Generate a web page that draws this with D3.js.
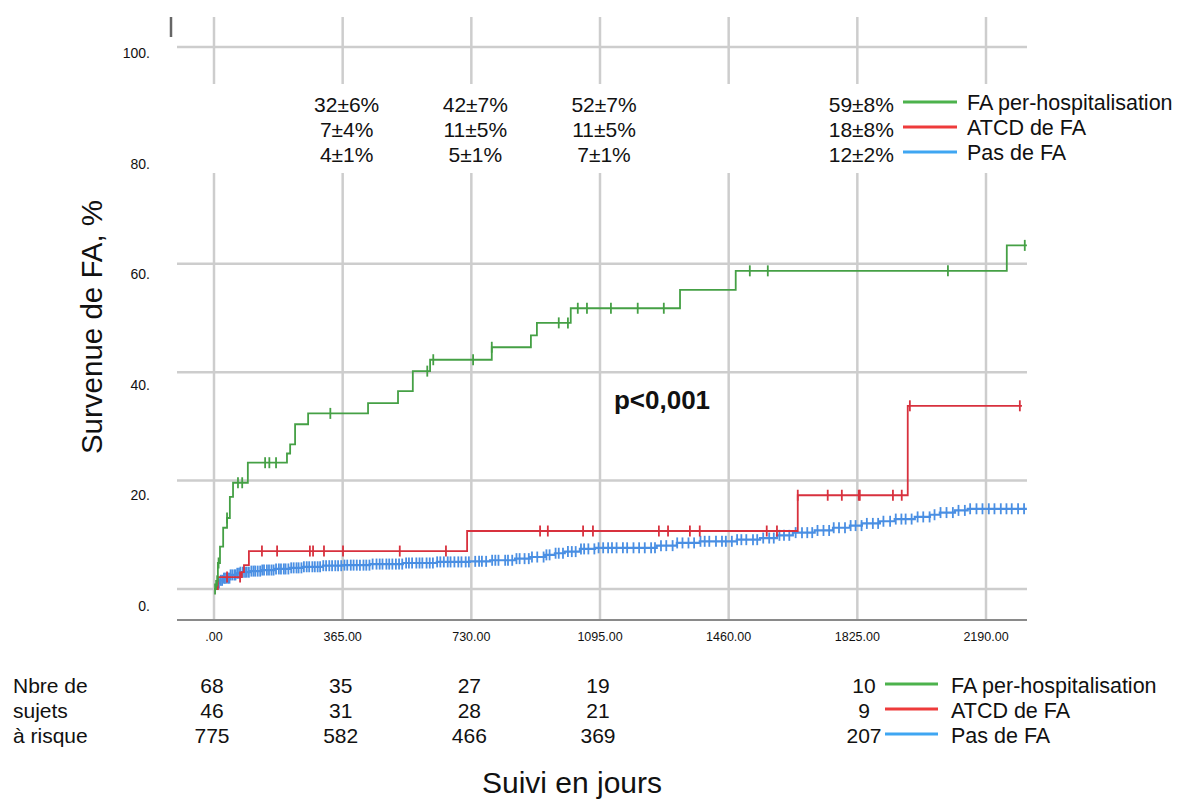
<!DOCTYPE html>
<html>
<head>
<meta charset="utf-8">
<script src="https://cdn.jsdelivr.net/npm/d3@7/dist/d3.min.js"></script>
<style>
body { margin: 0; background: #fff; }
text { font-family: "Liberation Sans", Arial, Helvetica, sans-serif; fill: #111; }
</style>
</head>
<body>
<div id="chart"></div>
<script>
// series names, legend order
var groups = ["FA per-hospitalisation", "ATCD de FA", "Pas de FA"];

// kaplan-meier steps: [day, % with FA]
var greenSteps = [[0,0],[6,1.5],[11,4.8],[17,7.8],[26,11.3],[37,13.1],[45,17],[54,19.6],[96,23.3],
    [207,25],[216,26.7],[230,30.4],[267,32.4],[437,34.3],[522,36.5],[564,40.2],[613,42.3],
    [788,44.6],[899,46.8],[916,49.1],[1012,51.8],[1322,55.2],[1480,58.7],[2249,63.4]];
var greenLast = 2306;
var greenCensor = [3,9,13,37,68,80,145,157,176,330,605,622,735,788,978,1004,1032,1058,1126,1202,1276,1520,1571,2082,2300];

var redSteps = [[0,0],[11,2.2],[79,3.1],[85,4.4],[99,7.0],[718,10.7],[1656,17.3],[1968,33.8]];
var redLast = 2292;
var redCensor = [37,74,136,179,272,281,312,366,527,658,925,947,1047,1075,1262,1288,1350,1378,1568,1597,1656,
    1741,1781,1829,1832,1926,1951,1974,2286];

var blueSteps = [[0,0],[6,0.6],[11,1.1],[17,1.6],[28,2.0],[45,2.6],[62,2.9],[74,3.1],[102,3.3],[136,3.5],
    [173,3.7],[216,3.9],[252,4.1],[309,4.3],[366,4.4],[442,4.6],[536,4.8],[632,5.0],[726,5.1],[783,5.3],
    [854,5.6],[896,5.9],[939,6.3],[967,6.6],[995,6.9],[1038,7.4],[1081,7.6],[1256,8.0],[1313,8.5],
    [1378,8.8],[1483,9.1],[1549,9.4],[1597,9.9],[1642,10.4],[1704,10.8],[1756,11.3],[1804,11.7],
    [1838,12.1],[1889,12.5],[1931,12.9],[1988,13.3],[2031,13.7],[2059,14.1],[2102,14.5],[2138,14.8]];
var blueLast = 2306;
var blueCensor = [14,19,23,28,31,35,40,44,47,52,58,61,66,71,75,82,88,93,99,106,112,117,124,131,137,142,150,
    156,163,169,176,184,190,198,203,211,219,226,234,240,248,255,263,270,279,286,294,301,310,318,327,335,
    344,352,361,370,378,388,396,405,414,424,432,441,450,461,470,478,489,497,506,516,525,534,545,553,562,
    574,583,591,603,612,621,633,642,652,663,671,682,693,702,714,723,741,752,760,772,789,798,807,826,834,
    846,858,867,881,893,902,917,935,943,952,969,978,990,1004,1015,1026,1041,1050,1062,1079,1091,1104,1118,
    1129,1142,1160,1172,1190,1206,1222,1240,1251,1268,1283,1301,1314,1329,1346,1362,1380,1392,1405,1424,
    1441,1452,1469,1484,1496,1510,1529,1541,1558,1575,1588,1604,1617,1632,1650,1668,1683,1697,1712,1729,
    1745,1758,1773,1790,1806,1820,1837,1852,1869,1884,1899,1918,1934,1950,1962,1979,1996,2012,2030,2044,
    2061,2078,2096,2112,2130,2145,2163,2180,2198,2214,2232,2248,2263,2281,2298];

// axis ticks
var xTicks = [0, 365, 730, 1095, 1460, 1825, 2190];
var xTickLabels = [".00", "365.00", "730.00", "1095.00", "1460.00", "1825.00", "2190.00"];
var yTicks = [0, 20, 40, 60, 80, 100];
var yTickLabels = ["0.", "20.", "40.", "60.", "80.", "100."];

// survival estimates printed above the plot
var annotDays = [365, 730, 1095, 1825];
var annotGreen = ["32±6%", "42±7%", "52±7%", "59±8%"];
var annotRed = ["7±4%", "11±5%", "11±5%", "18±8%"];
var annotBlue = ["4±1%", "5±1%", "7±1%", "12±2%"];

// number at risk
var riskDays = [0, 365, 730, 1095];
var riskGreen = [68, 35, 27, 19];
var riskRed = [46, 31, 28, 21];
var riskBlue = [775, 582, 466, 369];
var riskLast = [10, 9, 207];
var riskRowLabels = ["Nbre de", "sujets", "à risque"];

var lineColors = ["#45a045", "#d8313e", "#4a8fe3"];
var legendColors = ["#4cb24c", "#ee3b3b", "#3fa6f2"];

var width = 1177, height = 803;
var plotLeft = 177, plotRight = 1027, plotTop = 17, axisY = 620;

var svg = d3.select("#chart").append("svg")
    .attr("width", width)
    .attr("height", height);

var x = d3.scaleLinear().domain([0, 2190]).range([214, 986]);
var y = d3.scaleLinear().domain([0, 100]).range([589, 47]);
// tick labels sit a bit below their grid lines
var yLab = d3.scaleLinear().domain([0, 100]).range([606, 53]);

// grid
var grid = svg.append("g").attr("stroke", "#cdcdcd").attr("stroke-width", 2.5);
grid.selectAll("line.v").data(xTicks).enter().append("line")
    .attr("x1", d => x(d)).attr("x2", d => x(d))
    .attr("y1", plotTop).attr("y2", axisY);
grid.selectAll("line.h").data(yTicks).enter().append("line")
    .attr("x1", plotLeft).attr("x2", plotRight)
    .attr("y1", d => y(d)).attr("y2", d => y(d));

// bottom axis line
svg.append("line")
    .attr("x1", plotLeft).attr("x2", plotRight)
    .attr("y1", axisY).attr("y2", axisY)
    .attr("stroke", "#8a8a8a").attr("stroke-width", 2);

// leftover bit of the y axis at the top
svg.append("line")
    .attr("x1", 171).attr("x2", 171)
    .attr("y1", 17).attr("y2", 37)
    .attr("stroke", "#666").attr("stroke-width", 2.5);

// white band where the estimates are printed
svg.append("rect")
    .attr("x", 160).attr("y", 84)
    .attr("width", 880).attr("height", 89)
    .attr("fill", "#fff");

// tick labels
svg.selectAll("text.xt").data(xTicks).enter().append("text")
    .attr("x", d => x(d)).attr("y", 641)
    .attr("text-anchor", "middle")
    .style("font-size", "12.5px")
    .text((d, i) => xTickLabels[i]);
svg.selectAll("text.yt").data(yTicks).enter().append("text")
    .attr("x", 150).attr("y", d => yLab(d))
    .attr("dy", "0.35em")
    .attr("text-anchor", "end")
    .style("font-size", "14px")
    .text((d, i) => yTickLabels[i]);

// curves
function drawCurve(steps, last, censor, color, sw) {
    var pts = steps.concat([[last, steps[steps.length - 1][1]]]);
    var line = d3.line()
        .x(d => x(d[0]))
        .y(d => y(d[1]))
        .curve(d3.curveStepAfter);
    svg.append("path")
        .attr("d", line(pts))
        .attr("fill", "none")
        .attr("stroke", color)
        .attr("stroke-width", sw);

    var valueAt = function(day) {
        var v = 0;
        steps.forEach(function(s) { if (s[0] <= day) v = s[1]; });
        return v;
    };
    svg.append("g").selectAll("line").data(censor).enter().append("line")
        .attr("x1", d => x(d)).attr("x2", d => x(d))
        .attr("y1", d => y(valueAt(d)) - 5.5)
        .attr("y2", d => y(valueAt(d)) + 5.5)
        .attr("stroke", color)
        .attr("stroke-width", 1.8);
}
drawCurve(blueSteps, blueLast, blueCensor, lineColors[2], 2.2);
drawCurve(redSteps, redLast, redCensor, lineColors[1], 1.8);
drawCurve(greenSteps, greenLast, greenCensor, lineColors[0], 1.8);

// p value
svg.append("text")
    .attr("x", 662).attr("y", 400)
    .attr("dy", "0.35em")
    .attr("text-anchor", "middle")
    .style("font-size", "26px")
    .style("font-weight", "bold")
    .text("p<0,001");

// estimates at 1, 2, 3 and 5 years
var annotRows = [annotGreen, annotRed, annotBlue];
annotRows.forEach(function(row, r) {
    svg.selectAll(null).data(annotDays).enter().append("text")
        .attr("x", d => x(d) + 4)
        .attr("y", 105 + r * 25)
        .attr("dy", "0.35em")
        .attr("text-anchor", "middle")
        .style("font-size", "21px")
        .text((d, i) => row[i]);
});

// legend next to the estimates
groups.forEach(function(g, i) {
    var ly = 102 + i * 25;
    svg.append("line")
        .attr("x1", 903).attr("x2", 957)
        .attr("y1", ly).attr("y2", ly)
        .attr("stroke", legendColors[i]).attr("stroke-width", 3);
    svg.append("text")
        .attr("x", 967).attr("y", ly)
        .attr("dy", "0.35em")
        .style("font-size", "21.5px")
        .text(g);
});

// number at risk table
riskRowLabels.forEach(function(t, r) {
    svg.append("text")
        .attr("x", 13).attr("y", 686 + r * 25)
        .attr("dy", "0.35em")
        .style("font-size", "21px")
        .text(t);
});
var riskRows = [riskGreen, riskRed, riskBlue];
riskRows.forEach(function(row, r) {
    svg.selectAll(null).data(riskDays).enter().append("text")
        .attr("x", d => x(d) - 2)
        .attr("y", 686 + r * 25)
        .attr("dy", "0.35em")
        .attr("text-anchor", "middle")
        .style("font-size", "21px")
        .text((d, i) => row[i]);
});
groups.forEach(function(g, i) {
    var ly = 684 + i * 25;
    svg.append("text")
        .attr("x", 864).attr("y", ly + 2)
        .attr("dy", "0.35em")
        .attr("text-anchor", "middle")
        .style("font-size", "21px")
        .text(riskLast[i]);
    svg.append("line")
        .attr("x1", 885).attr("x2", 938)
        .attr("y1", ly).attr("y2", ly)
        .attr("stroke", legendColors[i]).attr("stroke-width", 3);
    svg.append("text")
        .attr("x", 951).attr("y", ly + 1)
        .attr("dy", "0.35em")
        .style("font-size", "21.5px")
        .text(g);
});

// axis titles
svg.append("text")
    .attr("transform", "translate(92,327) rotate(-90)")
    .attr("dy", "0.35em")
    .attr("text-anchor", "middle")
    .style("font-size", "29.5px")
    .text("Survenue de FA, %");
svg.append("text")
    .attr("x", 572).attr("y", 782)
    .attr("dy", "0.35em")
    .attr("text-anchor", "middle")
    .style("font-size", "30px")
    .text("Suivi en jours");
</script>
</body>
</html>
